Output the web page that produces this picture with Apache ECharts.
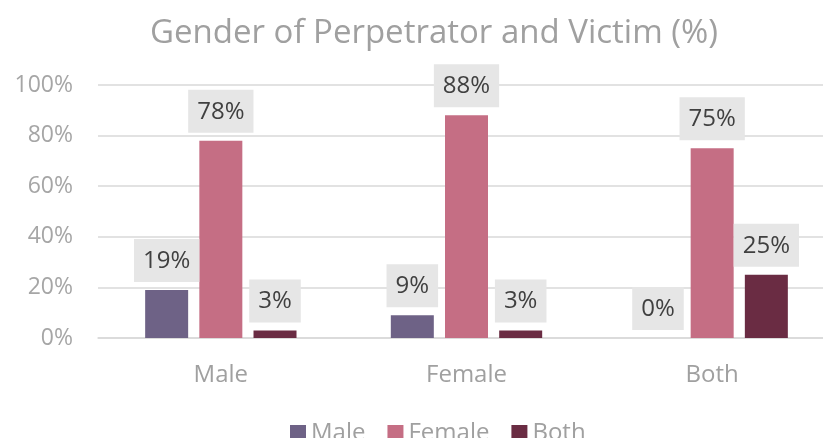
<!DOCTYPE html>
<html>
<head>
<meta charset="utf-8">
<script src="https://cdn.jsdelivr.net/npm/echarts@6/dist/echarts.min.js"></script>
<style>html,body{margin:0;padding:0;background:#fff;overflow:hidden}#wrap{width:823px;height:438px;overflow:hidden}#c{width:860px;height:438px}</style>
</head>
<body>
<div id="wrap"><div id="c"></div></div>
<script>
const categories = ['Male', 'Female', 'Both'];
const seriesNames = ['Male', 'Female', 'Both'];
const maleValues = [19, 9, 0];
const femaleValues = [78, 88, 75];
const bothValues = [3, 3, 25];
const yTicks = [0, 20, 40, 60, 80, 100];
const titleText = 'Gender of Perpetrator and Victim (%)';

const colors = ['#6e6286', '#c56e84', '#6a2c43'];
const FONT = '"Open Sans", sans-serif';
const chart = echarts.init(document.getElementById('c'), null, {renderer: 'canvas'});

const label = {
  show: true, position: 'top', distance: 8,
  formatter: p => p.value + '%',
  color: '#404040', fontFamily: FONT, fontSize: 24, lineHeight: 24,
  backgroundColor: '#e6e6e6', padding: [10, 9, 9, 9]
};
const data = [maleValues, femaleValues, bothValues];
chart.setOption({
  animation: false,
  color: colors,
  title: {
    text: titleText, left: 429, textAlign: 'center', top: 12,
    textStyle: {color: '#a0a0a0', fontFamily: FONT, fontSize: 33, fontWeight: 'normal'}
  },
  legend: {
    data: seriesNames, bottom: -12, left: 285,
    icon: 'rect', itemWidth: 16, itemHeight: 16, itemGap: 22,
    textStyle: {color: '#a0a0a0', fontFamily: FONT, fontSize: 24}
  },
  grid: {left: 98, width: 737, top: 85, height: 253, containLabel: false},
  xAxis: {
    type: 'category', data: categories,
    axisLine: {lineStyle: {color: '#d9d9d9', width: 1.5}},
    axisTick: {show: false},
    axisLabel: {color: '#a0a0a0', fontFamily: FONT, fontSize: 24, margin: 25}
  },
  yAxis: {
    type: 'value', min: 0, max: 100, interval: 20,
    axisLine: {show: false}, axisTick: {show: false},
    axisLabel: {color: '#a6a6a6', fontFamily: FONT, fontSize: 23, margin: 25,
      formatter: v => yTicks.includes(v) ? v + '%' : ''},
    splitLine: {lineStyle: {color: '#d9d9d9', width: 1.5}}
  },
  series: seriesNames.map((n, i) => ({
    name: n, type: 'bar', data: data[i],
    barWidth: 43, barGap: '26%',
    label: label
  }))
});
</script>
</body>
</html>
